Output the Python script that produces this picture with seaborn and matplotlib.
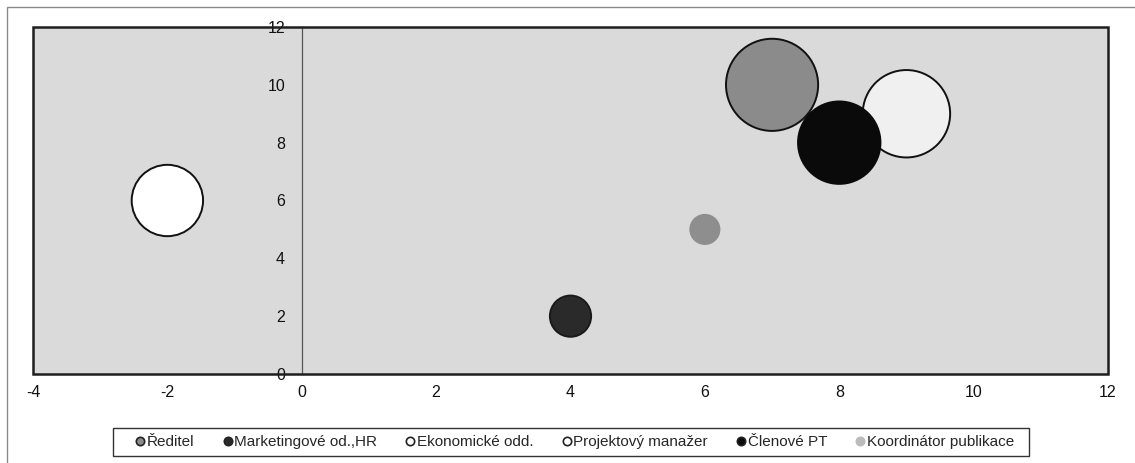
import matplotlib
matplotlib.use("Agg")
import matplotlib.pyplot as plt
from matplotlib.lines import Line2D
from matplotlib.patches import Rectangle
import pandas as pd
import seaborn as sns

# Role positions (x, y) and bubble sizes
roles = ["Ředitel", "Marketingové od.,HR", "Ekonomické odd.",
         "Projektový manažer", "Členové PT", "Koordinátor publikace"]
x_vals = [7, 4, -2, 9, 8, 6]
y_vals = [10, 2, 6, 9, 8, 5]
bubble_sizes = [10, 2, 6, 9, 8, 1]

fill_colors = ["#8b8b8b", "#2a2a2a", "#ffffff", "#f0f0f0", "#0a0a0a", "#8e8e8e"]
edge_colors = ["#111111", "#1a1a1a", "#111111", "#111111", "#0a0a0a", "#8e8e8e"]

x_ticks = [-4, -2, 0, 2, 4, 6, 8, 10, 12]
y_ticks = [0, 2, 4, 6, 8, 10, 12]

sns.set_theme(style="white")
plt.rcParams["font.family"] = ["Liberation Sans", "DejaVu Sans"]
plt.rcParams["axes.unicode_minus"] = False

df = pd.DataFrame({"role": roles, "x": x_vals, "y": y_vals, "size": bubble_sizes})

W, H = 1135, 463
fig = plt.figure(figsize=(W / 100, H / 100), dpi=100)
fig.patch.set_facecolor("white")
ax = fig.add_axes([33 / W, 1 - 374 / H, (1108 - 33) / W, (374 - 27) / H])
ax.set_facecolor("#dadada")

sns.scatterplot(data=df, x="x", y="y", hue="role", palette=dict(zip(roles, fill_colors)),
                size="size", sizes=(440, 4400), size_norm=(1, 10),
                legend=False, ax=ax, zorder=3)
pts = ax.collections[0]
pts.set_facecolors(fill_colors)
pts.set_edgecolors(edge_colors)
pts.set_linewidths(1.4)
pts.set_alpha(1)

ax.set_xlim(-4, 12)
ax.set_ylim(0, 12)
ax.set_xticks(x_ticks)
ax.set_yticks(y_ticks)
ax.set_xlabel("")
ax.set_ylabel("")

# y-axis runs through x = 0
for side in ["top", "right", "bottom"]:
    ax.spines[side].set_visible(False)
ax.spines["left"].set_position(("data", 0))
ax.spines["left"].set_color("#555555")
ax.spines["left"].set_linewidth(0.9)
ax.spines["left"].set_zorder(1)
ax.tick_params(axis="y", length=0, pad=12, labelsize=11.5, labelcolor="#111111")
ax.tick_params(axis="x", length=0, pad=8, labelsize=11.5, labelcolor="#111111")

# plot-area frame
ax.add_patch(Rectangle((0, 0), 1, 1, transform=ax.transAxes, fill=False,
                       edgecolor="#1e1e1e", linewidth=1.8, zorder=5, clip_on=False))

# outer chart border
fig.add_artist(Rectangle((7 / W, -0.1), 1.1, 1 - 7 / H + 0.1, transform=fig.transFigure,
                         fill=False, edgecolor="#8a8a8a", linewidth=1.0))

handles = [Line2D([], [], marker="o", linestyle="none", markersize=6,
                  markerfacecolor=fc, markeredgecolor=("#bbbbbb" if r == roles[-1] else "#222222"),
                  markeredgewidth=1.2)
           for r, fc in zip(roles, ["#8b8b8b", "#2a2a2a", "#ffffff", "#ffffff", "#0a0a0a", "#bbbbbb"])]
fig.legend(handles, roles, loc="center", bbox_to_anchor=(575 / W, 1 - 442 / H), ncol=6,
           frameon=False, fontsize=11, handlelength=0.6, handletextpad=0.15,
           columnspacing=1.85, borderpad=0.2)
fig.add_artist(Rectangle((113 / W, 1 - 456 / H), (1029 - 113) / W, 28 / H,
                         transform=fig.transFigure, fill=False, edgecolor="#333333", linewidth=1.0))

fig.savefig("out.png", dpi=100)
